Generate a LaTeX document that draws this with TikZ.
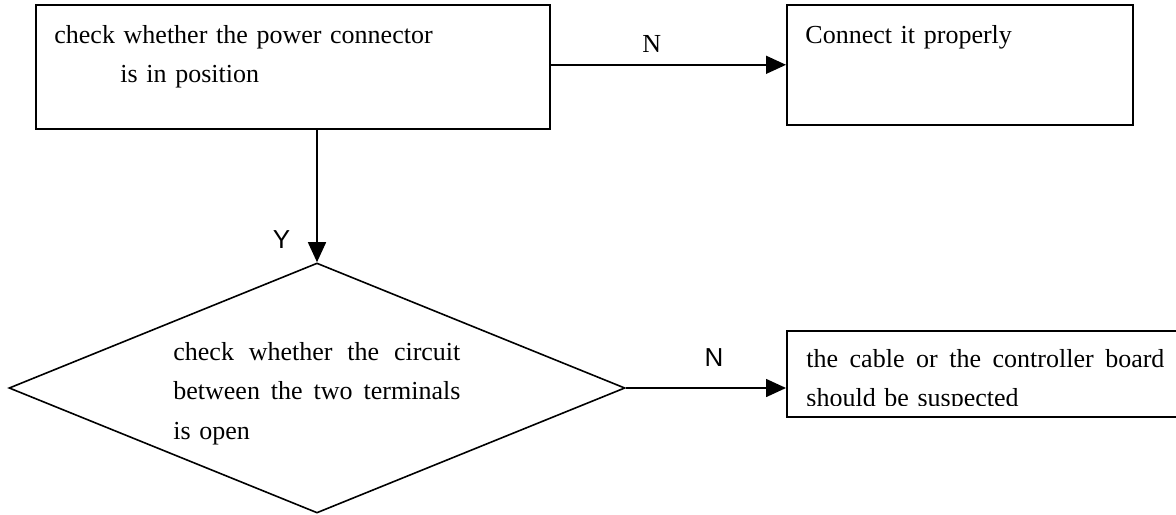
\documentclass[tikz,border=0pt]{standalone}
\usepackage{fontspec}
\setmainfont{Liberation Serif}
\newfontfamily\ynfont{Liberation Sans}
\usetikzlibrary{arrows.meta,shapes.geometric}

\begin{document}
\begin{tikzpicture}[x=0.5pt, y=-0.5pt, >={Triangle[length=10pt,width=9pt]},
  font=\fontsize{13}{19.75}\selectfont,
  box/.style={draw, line width=0.8pt, inner sep=0pt, anchor=north west},
  txt/.style={inner sep=0pt, anchor=base west, align=left},
  flow/.style={->, line width=0.8pt},
  yn/.style={inner sep=0pt, font=\fontsize{13}{15}\ynfont}]
\useasboundingbox (0,0) rectangle (1176,514);
\clip (0,0) rectangle (1176,514);

% boxes
\node[box, minimum width=257pt, minimum height=62pt] (power) at (35,4) {};
\node[box, minimum width=173pt, minimum height=60pt] (connect) at (786,4) {};
\node[box, minimum width=230pt, minimum height=43pt] (suspect) at (786,330) {};
\node[draw, diamond, line width=0.8pt, inner sep=0pt, minimum width=308pt, minimum height=125pt] (circuit) at (317,388) {};

% texts
\node[txt, text width=200pt] (powertxt) at (54,43)
  {check whether the power connector\\ \hspace*{33pt}is in position};
\node[txt, text width=120pt] (connecttxt) at (805,43) {Connect it properly};
\node[txt, text width=143.5pt] (circuittxt) at (173,360)
  {check\hfill whether\hfill the\hfill circuit\\ between\hfill the\hfill two\hfill terminals\\ is open};
\begin{scope}
  \clip (786,330) rectangle (1200,405);
  \node[txt, text width=179pt] (suspecttxt) at (806,367)
    {the\hfill cable\hfill or\hfill the\hfill controller\hfill board\\ should be suspected};
\end{scope}

% connectors
\draw[flow] (power.east |- connect.west) -- (connect.west)
  node[pos=0.43, above=6pt, inner sep=0pt] {N};
\draw[flow] (power.south -| circuit.north) -- (circuit.north)
  node[pos=0.83, left=13pt, yn] {Y};
\draw[flow] (circuit.east) -- (suspect.west |- circuit.east)
  node[pos=0.55, above=10.5pt, yn] {N};
\end{tikzpicture}
\end{document}
